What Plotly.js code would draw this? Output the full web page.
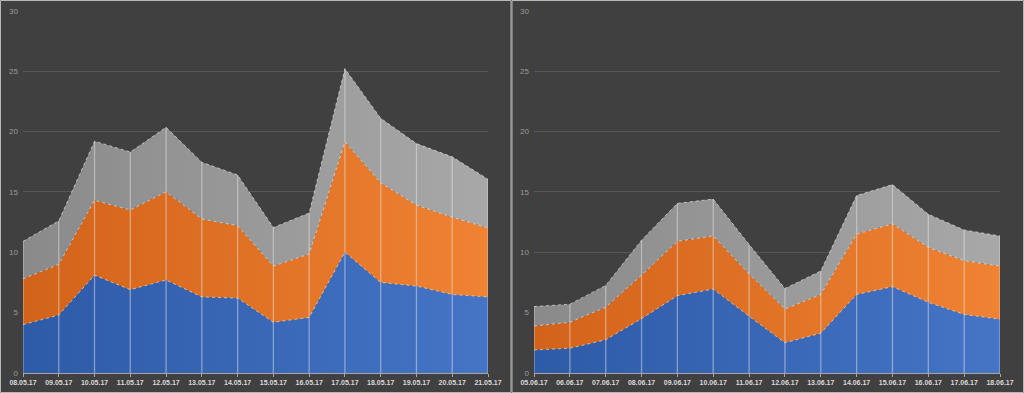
<!DOCTYPE html>
<html>
<head>
<meta charset="utf-8">
<script src="https://cdn.plot.ly/plotly-3.0.1.min.js"></script>
<style>html,body{margin:0;padding:0;background:#404040;}#chart{width:1024px;height:393px;}</style>
</head>
<body>
<div id="chart"></div>
<script>
// ---- data ----
const datesMay = ["08.05.17","09.05.17","10.05.17","11.05.17","12.05.17","13.05.17","14.05.17","15.05.17","16.05.17","17.05.17","18.05.17","19.05.17","20.05.17","21.05.17"];
const blueMay   = [4.0, 4.8, 8.1, 6.9, 7.7, 6.3, 6.2, 4.2, 4.6, 10.0, 7.5, 7.2, 6.5, 6.3];
const orangeMay = [3.8, 4.2, 6.2, 6.6, 7.3, 6.45, 6.0, 4.65, 5.25, 9.15, 8.25, 6.7, 6.4, 5.7];
const grayMay   = [3.1, 3.6, 4.9, 4.8, 5.35, 4.7, 4.2, 3.2, 3.4, 6.05, 5.35, 5.1, 5.0, 4.05];

const datesJun = ["05.06.17","06.06.17","07.06.17","08.06.17","09.06.17","10.06.17","11.06.17","12.06.17","13.06.17","14.06.17","15.06.17","16.06.17","17.06.17","18.06.17"];
const blueJun   = [1.9, 2.05, 2.75, 4.5, 6.4, 6.95, 4.7, 2.5, 3.3, 6.5, 7.15, 5.85, 4.85, 4.45];
const orangeJun = [2.0, 2.15, 2.7, 3.6, 4.5, 4.4, 3.5, 2.8, 3.2, 5.0, 5.2, 4.55, 4.45, 4.4];
const grayJun   = [1.6, 1.5, 1.8, 2.9, 3.15, 3.05, 2.45, 1.7, 1.95, 3.2, 3.25, 2.75, 2.55, 2.5];

// ---- styles ----
const seriesStyle = [
  {name:"Blue",   dark:"#2d5ba8", light:"#4674c6"},
  {name:"Orange", dark:"#d2631a", light:"#ef8233"},
  {name:"Gray",   dark:"#8a8a8a", light:"#a8a8a8"}
];
const edgeLine = {color:"rgba(255,255,255,0.55)", width:1, dash:"dot"};

function panelTraces(dates, blue, orange, gray, xa, ya, grp) {
  const vals = [blue, orange, gray];
  const tr = vals.map((v, i) => ({
    type: "scatter", mode: "lines", x: dates, y: v,
    xaxis: xa, yaxis: ya, stackgroup: grp,
    line: edgeLine,
    fillcolor: seriesStyle[i].light,
    fillgradient: {type: "horizontal", colorscale: [[0, seriesStyle[i].dark], [1, seriesStyle[i].light]]},
    hoverinfo: "skip", showlegend: false
  }));
  // drop lines from 0 to stack total
  const dx = [], dy = [];
  dates.forEach((d, i) => {
    dx.push(d, d, null);
    dy.push(0, blue[i] + orange[i] + gray[i], null);
  });
  tr.push({type:"scatter", mode:"lines", x:dx, y:dy, xaxis:xa, yaxis:ya,
    line:{color:"rgba(235,235,235,0.45)", width:1.3}, connectgaps:false,
    hoverinfo:"skip", showlegend:false});
  return tr;
}

const traces = [
  ...panelTraces(datesMay, blueMay, orangeMay, grayMay, "x", "y", "a"),
  ...panelTraces(datesJun, blueJun, orangeJun, grayJun, "x2", "y2", "b")
];

const xBase = {
  type:"category", range:[0,13], showgrid:false, zeroline:false,
  showline:true, linecolor:"#a6a6a6", linewidth:1,
  ticks:"outside", ticklen:3, tickcolor:"#a6a6a6", tickangle:0,
  tickfont:{family:"Liberation Sans, Arial, sans-serif", size:7, color:"#d9d9d9", weight:"bold"},
  fixedrange:true
};
const yBase = {
  range:[0,30], dtick:5, tick0:0, showgrid:true, gridcolor:"#575757", gridwidth:1,
  zeroline:false, showline:false, ticks:"", ticklabelstandoff:4,
  tickfont:{family:"Liberation Sans, Arial, sans-serif", size:8, color:"#9a9a9a"},
  fixedrange:true
};
const ydom = [20/393, 382.3/393];

const layout = {
  width:1024, height:393,
  margin:{l:0, r:0, t:0, b:0},
  paper_bgcolor:"#404040", plot_bgcolor:"#404040",
  showlegend:false,
  xaxis: Object.assign({}, xBase, {domain:[23/1024, 488/1024], anchor:"y"}),
  yaxis: Object.assign({}, yBase, {domain:ydom, anchor:"x"}),
  xaxis2: Object.assign({}, xBase, {domain:[534/1024, 1000/1024], anchor:"y2"}),
  yaxis2: Object.assign({}, yBase, {domain:ydom, anchor:"x2"}),
  shapes: [
    {type:"rect", xref:"paper", yref:"paper", x0:0.5/1024, x1:511/1024, y0:0.5/393, y1:392.5/393,
     line:{color:"#b8b8b8", width:1}, layer:"above"},
    {type:"rect", xref:"paper", yref:"paper", x0:512/1024, x1:1023.5/1024, y0:0.5/393, y1:392.5/393,
     line:{color:"#b8b8b8", width:1}, layer:"above"}
  ]
};

Plotly.newPlot("chart", traces, layout, {staticPlot:true, displayModeBar:false});
</script>
</body>
</html>
